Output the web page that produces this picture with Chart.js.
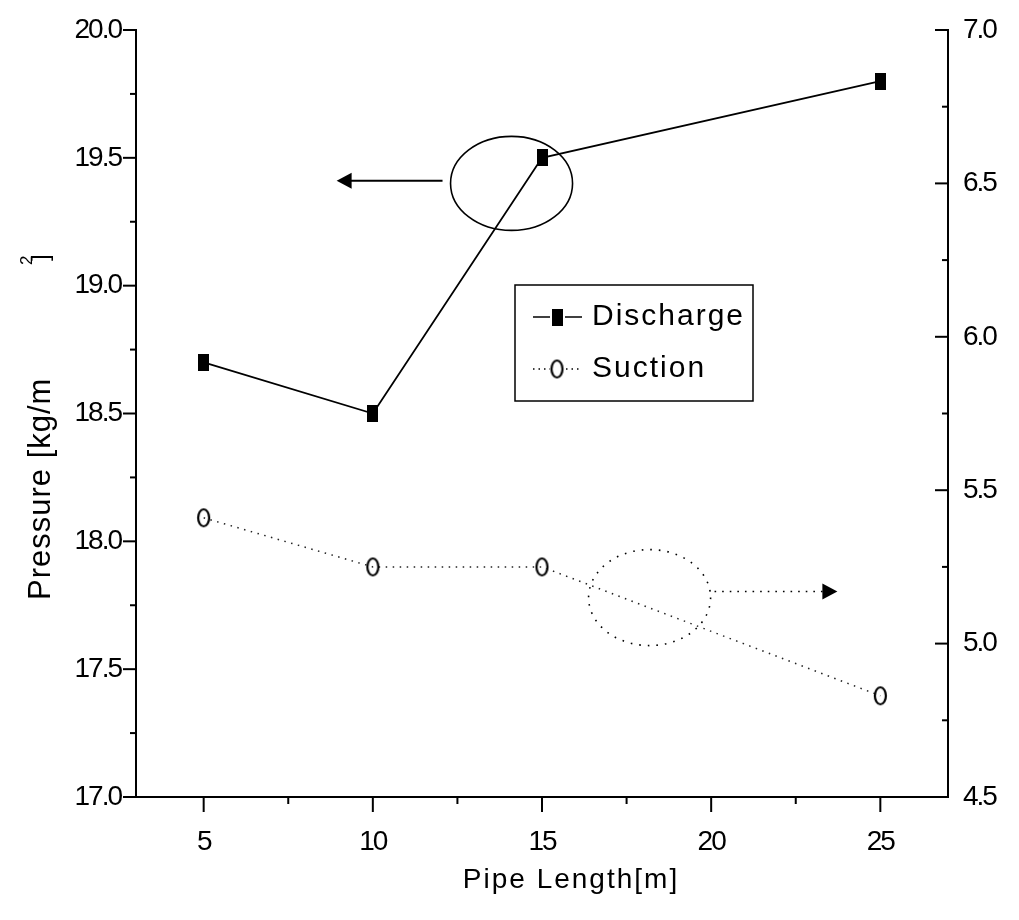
<!DOCTYPE html>
<html>
<head>
<meta charset="utf-8">
<script src="https://cdn.jsdelivr.net/npm/chart.js@4.4.1/dist/chart.umd.min.js"></script>
<style>
  html, body { margin: 0; padding: 0; background: #fff; }
  #wrap { width: 1019px; height: 920px; }
</style>
</head>
<body>
<div id="wrap"><canvas id="grafico"></canvas></div>
<script>
// datos
const longitudes = [5, 10, 15, 25];
const descarga = [18.7, 18.5, 19.5, 19.8];   // eje izquierdo
const succion = [5.41, 5.25, 5.25, 4.83];     // eje derecho
const ticksX = [5, 10, 15, 20, 25];
const ticksIzq = [17.0, 17.5, 18.0, 18.5, 19.0, 19.5, 20.0];
const ticksDer = [4.5, 5.0, 5.5, 6.0, 6.5, 7.0];

const fuenteTicks = "'Liberation Sans', Arial, sans-serif";
const fuenteTexto = "'Liberation Sans', Arial, sans-serif";

// marcadores
function marcaRect() {
  const c = document.createElement("canvas");
  c.width = 11; c.height = 17;
  const g = c.getContext("2d");
  g.fillStyle = "#000";
  g.fillRect(0, 0, 11, 17);
  return c;
}
function marcaOval() {
  const c = document.createElement("canvas");
  c.width = 15; c.height = 21;
  const g = c.getContext("2d");
  g.strokeStyle = "#000";
  g.lineWidth = 2.2;
  g.beginPath();
  g.ellipse(7.5, 10.5, 5.5, 8.5, 0, 0, Math.PI * 2);
  g.stroke();
  return c;
}
const imgRect = marcaRect();
const imgOval = marcaOval();

function flecha(ctx, x0, y, x1, punteada) {
  const dir = Math.sign(x1 - x0);
  ctx.save();
  ctx.strokeStyle = "#000";
  ctx.lineWidth = punteada ? 1.6 : 2;
  ctx.setLineDash(punteada ? [1.6, 6] : []);
  ctx.beginPath();
  ctx.moveTo(x0, y);
  ctx.lineTo(x1 - dir * 12, y);
  ctx.stroke();
  ctx.setLineDash([]);
  ctx.fillStyle = "#000";
  ctx.beginPath();
  ctx.moveTo(x1, y);
  ctx.lineTo(x1 - dir * 15, y - 8);
  ctx.lineTo(x1 - dir * 15, y + 8);
  ctx.closePath();
  ctx.fill();
  ctx.restore();
}

// etiquetas de ticks mas apretadas
const apretar = {
  id: "apretar",
  beforeDraw(chart) { chart.ctx.letterSpacing = "-2px"; },
  beforeDatasetsDraw(chart) { chart.ctx.letterSpacing = "0px"; }
};

// marcas de eje, titulos, leyenda y anotaciones
const extras = {
  id: "extras",
  afterDraw(chart) {
    const ctx = chart.ctx;
    const { x, y, y2 } = chart.scales;
    const area = chart.chartArea;
    ctx.save();
    ctx.strokeStyle = "#000";
    ctx.lineWidth = 2;

    // eje x: hacia afuera
    for (let v = 5; v <= 25; v += 2.5) {
      const px = x.getPixelForValue(v);
      const largo = v % 5 === 0 ? 15 : 7;
      ctx.beginPath(); ctx.moveTo(px, area.bottom); ctx.lineTo(px, area.bottom + largo); ctx.stroke();
    }
    // eje izquierdo: hacia afuera
    for (let v = 17; v <= 20.001; v += 0.25) {
      const py = y.getPixelForValue(v);
      const largo = Math.abs(v * 2 - Math.round(v * 2)) < 0.01 ? 13 : 6;
      ctx.beginPath(); ctx.moveTo(area.left, py); ctx.lineTo(area.left - largo, py); ctx.stroke();
    }
    // eje derecho: hacia adentro
    for (let v = 4.5; v <= 7.001; v += 0.25) {
      const py = y2.getPixelForValue(v);
      const largo = Math.abs(v * 2 - Math.round(v * 2)) < 0.01 ? 13 : 6;
      ctx.beginPath(); ctx.moveTo(area.right, py); ctx.lineTo(area.right - largo, py); ctx.stroke();
    }

    // titulo eje x
    ctx.fillStyle = "#000";
    ctx.letterSpacing = "2px";
    ctx.font = "28px " + fuenteTexto;
    ctx.textAlign = "center";
    ctx.textBaseline = "middle";
    ctx.fillText("Pipe Length[m]", (area.left + area.right) / 2 + 29, 880);

    // titulo eje y (rotado)
    ctx.save();
    ctx.translate(50, 600);
    ctx.rotate(-Math.PI / 2);
    ctx.textAlign = "left";
    ctx.textBaseline = "alphabetic";
    ctx.letterSpacing = "1px";
    ctx.font = "31px " + fuenteTexto;
    ctx.fillText("Pressure [kg/m", 0, 0);
    ctx.letterSpacing = "0px";
    ctx.font = "24px " + fuenteTexto;
    ctx.fillText("]", 339, -2);
    ctx.font = "17px " + fuenteTexto;
    ctx.fillText("2", 335, -18);
    ctx.restore();

    // leyenda
    ctx.letterSpacing = "2px";
    ctx.lineWidth = 1.5;
    ctx.strokeRect(515, 285, 238, 116);
    ctx.font = "30px " + fuenteTexto;
    ctx.textAlign = "left";
    ctx.textBaseline = "middle";
    const filas = [
      { label: chart.data.datasets[0].label, img: imgRect, dash: [], yy: 317 },
      { label: chart.data.datasets[1].label, img: imgOval, dash: [1.5, 4], yy: 369 }
    ];
    filas.forEach(f => {
      ctx.setLineDash(f.dash);
      ctx.lineWidth = 1.5;
      ctx.beginPath(); ctx.moveTo(533, f.yy); ctx.lineTo(582, f.yy); ctx.stroke();
      ctx.setLineDash([]);
      ctx.clearRect(550, f.yy - 11, 15, 22);
      ctx.drawImage(f.img, 557 - f.img.width / 2, f.yy - f.img.height / 2);
      ctx.fillText(f.label, 592, f.yy);
    });
    ctx.letterSpacing = "0px";

    // anotaciones: elipse y flecha para cada serie
    ctx.lineWidth = 1.6;
    ctx.beginPath();
    ctx.ellipse(x.getPixelForValue(14.1), y.getPixelForValue(19.4), 61, 47, 0, 0, Math.PI * 2);
    ctx.stroke();
    flecha(ctx, x.getPixelForValue(12.06), y.getPixelForValue(19.41), x.getPixelForValue(8.93), false);

    ctx.setLineDash([1.6, 7]);
    ctx.beginPath();
    ctx.ellipse(x.getPixelForValue(18.18), y2.getPixelForValue(5.15), 61, 48, 0, 0, Math.PI * 2);
    ctx.stroke();
    ctx.setLineDash([]);
    flecha(ctx, x.getPixelForValue(20.1), y2.getPixelForValue(5.17), x.getPixelForValue(23.73), true);

    ctx.restore();
  }
};

function sinPadding(s) {
  s.paddingTop = 0; s.paddingBottom = 0; s.paddingLeft = 0; s.paddingRight = 0;
}

const ctx = document.getElementById("grafico").getContext("2d");
new Chart(ctx, {
  type: "line",
  data: {
    datasets: [
      {
        label: "Discharge",
        data: longitudes.map((v, i) => ({ x: v, y: descarga[i] })),
        yAxisID: "y",
        borderColor: "#000",
        borderWidth: 1.8,
        pointStyle: imgRect,
        tension: 0,
        fill: false
      },
      {
        label: "Suction",
        data: longitudes.map((v, i) => ({ x: v, y: succion[i] })),
        yAxisID: "y2",
        borderColor: "#222",
        borderWidth: 1.5,
        borderDash: [1.5, 5.5],
        pointStyle: imgOval,
        tension: 0,
        fill: false
      }
    ]
  },
  options: {
    responsive: true,
    maintainAspectRatio: false,
    animation: false,
    events: [],
    layout: { padding: { top: 30, left: 0, right: 0, bottom: 0 } },
    plugins: { legend: { display: false }, tooltip: { enabled: false } },
    scales: {
      x: {
        type: "linear",
        min: 3,
        max: 27,
        afterBuildTicks: s => { s.ticks = ticksX.map(v => ({ value: v })); },
        afterFit: s => { s.height = 123; sinPadding(s); },
        grid: { display: false, drawTicks: false },
        border: { display: true, color: "#000", width: 2 },
        ticks: { color: "#000", padding: 28, maxRotation: 0, font: { family: fuenteTicks, size: 28 } }
      },
      y: {
        type: "linear",
        position: "left",
        min: 17,
        max: 20,
        afterBuildTicks: s => { s.ticks = ticksIzq.map(v => ({ value: v })); },
        afterFit: s => { s.width = 136; sinPadding(s); },
        grid: { display: false, drawTicks: false },
        border: { display: true, color: "#000", width: 2 },
        ticks: { color: "#000", padding: 15, font: { family: fuenteTicks, size: 28 }, callback: v => v.toFixed(1) }
      },
      y2: {
        type: "linear",
        position: "right",
        min: 4.5,
        max: 7,
        afterBuildTicks: s => { s.ticks = ticksDer.map(v => ({ value: v })); },
        afterFit: s => { s.width = 71; sinPadding(s); },
        grid: { display: false, drawTicks: false },
        border: { display: true, color: "#000", width: 2 },
        ticks: { color: "#000", padding: 15, font: { family: fuenteTicks, size: 28 }, callback: v => v.toFixed(1) }
      }
    }
  },
  plugins: [apretar, extras]
});
</script>
</body>
</html>
